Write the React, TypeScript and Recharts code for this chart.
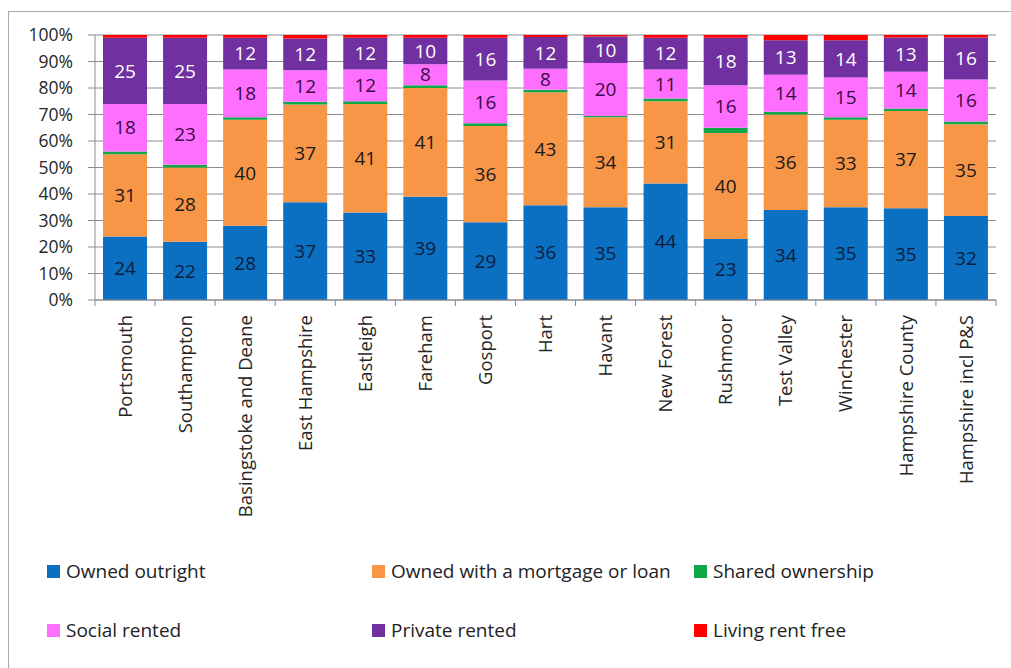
import React from "react";
import { BarChart, Bar, XAxis, YAxis, CartesianGrid, LabelList } from "recharts";

const categories = [
  "Portsmouth",
  "Southampton",
  "Basingstoke and Deane",
  "East Hampshire",
  "Eastleigh",
  "Fareham",
  "Gosport",
  "Hart",
  "Havant",
  "New Forest",
  "Rushmoor",
  "Test Valley",
  "Winchester",
  "Hampshire County",
  "Hampshire incl P&S",
];

const ownedOutright = [24, 22, 28, 37, 33, 39, 29, 36, 35, 44, 23, 34, 35, 35, 32];
const ownedMortgage = [31, 28, 40, 37, 41, 41, 36, 43, 34, 31, 40, 36, 33, 37, 35];
const sharedOwnership = [1, 1, 1, 1, 1, 1, 1, 1, 0.4, 1, 2, 1, 1, 1, 1];
const socialRented = [18, 23, 18, 12, 12, 8, 16, 8, 20, 11, 16, 14, 15, 14, 16];
const privateRented = [25, 25, 12, 12, 12, 10, 16, 12, 10, 12, 18, 13, 14, 13, 16];
const rentFree = [1, 1, 1, 1.3, 1, 1, 1, 0.8, 0.6, 1, 1, 2, 2, 1, 1];

const yTicks = [0, 0.1, 0.2, 0.3, 0.4, 0.5, 0.6, 0.7, 0.8, 0.9, 1];

const series = [
  { key: "outright", name: "Owned outright", color: "#0B6FC2", label: "#0d1d3a" },
  { key: "mortgage", name: "Owned with a mortgage or loan", color: "#F79646", label: "#1a1a1a" },
  { key: "shared", name: "Shared ownership", color: "#12A84A", label: null },
  { key: "social", name: "Social rented", color: "#FF6FFF", label: "#3b0a45" },
  { key: "private", name: "Private rented", color: "#7030A0", label: "#ffffff" },
  { key: "free", name: "Living rent free", color: "#FF0000", label: null },
];

const data = categories.map((c, i) => ({
  name: c,
  outright: ownedOutright[i],
  mortgage: ownedMortgage[i],
  shared: sharedOwnership[i],
  social: socialRented[i],
  private: privateRented[i],
  free: rentFree[i],
}));

const FONT = "'Open Sans', sans-serif";
const HALF_BAND = (996 - 95) / 15 / 2;

const XTick = (props: any) => {
  const { x, y, payload, index } = props;
  return (
    <g>
      <line x1={x - HALF_BAND} x2={x - HALF_BAND} y1={300} y2={306} stroke="#8c8c8c" strokeWidth={1} />
      {index === categories.length - 1 && (
        <line x1={x + HALF_BAND} x2={x + HALF_BAND} y1={300} y2={306} stroke="#8c8c8c" strokeWidth={1} />
      )}
      <text
        x={x}
        y={y}
        transform={`rotate(-90, ${x}, ${y})`}
        textAnchor="end"
        dy="0.36em"
        fill="#262626"
        fontSize={18.5}
        fontFamily={FONT}
      >
        {payload.value}
      </text>
    </g>
  );
};

const legendRows = [
  [series[0], series[1], series[2]],
  [series[3], series[4], series[5]],
];
const legendCols = [47, 372, 694];
const legendRowY = [571, 630];

export default function App() {
  return (
    <div
      style={{
        position: "absolute",
        left: 0,
        top: 0,
        width: 1011,
        height: 668,
        background: "#fff",
        overflow: "hidden",
        fontFamily: FONT,
      }}
    >
      <div
        style={{
          position: "absolute",
          left: 8,
          top: 11,
          width: 1100,
          height: 800,
          border: "1.5px solid #a9a9a9",
          boxSizing: "border-box",
        }}
      />
      <div style={{ position: "absolute", left: 0, top: 0 }}>
        <BarChart
          width={1011}
          height={668}
          data={data}
          stackOffset="expand"
          barSize={44}
          margin={{ top: 35, right: 15, left: 15, bottom: 8 }}
        >
          <CartesianGrid vertical={false} stroke="#8c8c8c" strokeWidth={1} />
          <XAxis
            dataKey="name"
            interval={0}
            height={360}
            tickLine={false}
            tickSize={6}
            tickMargin={9}
            axisLine={{ stroke: "#8c8c8c" }}
            tick={<XTick />}
          />
          <YAxis
            width={80}
            domain={[0, 1]}
            ticks={yTicks}
            interval={0}
            tickFormatter={(v: number) => `${Math.round(v * 100)}%`}
            tickSize={7}
            tickMargin={15}
            tickLine={{ stroke: "#8c8c8c" }}
            axisLine={{ stroke: "#8c8c8c" }}
            tick={{ fill: "#262626", fontSize: 17.5, fontFamily: FONT }}
          />
          {series.map((s) => (
            <Bar key={s.key} dataKey={s.key} name={s.name} stackId="a" fill={s.color} isAnimationActive={false}>
              {s.label && (
                <LabelList
                  dataKey={s.key}
                  position="center"
                  fill={s.label}
                  fontSize={19}
                  fontFamily={FONT}
                />
              )}
            </Bar>
          ))}
        </BarChart>
      </div>
      {legendRows.map((row, ri) =>
        row.map((s, ci) => (
          <div
            key={s.key}
            style={{
              position: "absolute",
              left: legendCols[ci],
              top: legendRowY[ri] - 13,
              height: 26,
              display: "flex",
              alignItems: "center",
              whiteSpace: "nowrap",
              fontSize: 19,
              color: "#222",
            }}
          >
            <span
              style={{
                display: "inline-block",
                width: 13,
                height: 13,
                background: s.color,
                marginRight: 6,
              }}
            />
            <span>{s.name}</span>
          </div>
        ))
      )}
    </div>
  );
}
